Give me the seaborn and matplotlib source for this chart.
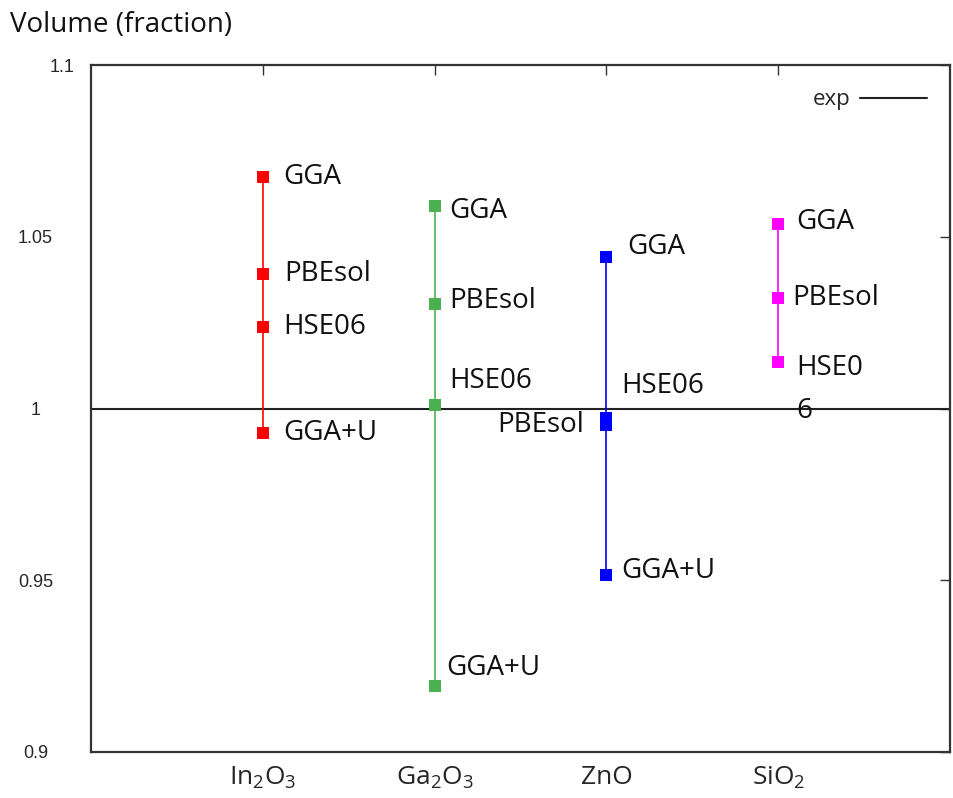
import matplotlib
matplotlib.use("Agg")
import matplotlib.pyplot as plt
import matplotlib.transforms as mtransforms
import seaborn as sns
import pandas as pd

# Relative volume (V / V_exp) for each oxide and functional
compounds = ["In2O3", "Ga2O3", "ZnO", "SiO2"]
compound_labels = [r"In$_2$O$_3$", r"Ga$_2$O$_3$", "ZnO", r"SiO$_2$"]

in2o3_methods = ["GGA", "PBEsol", "HSE06", "GGA+U"]
in2o3_values = [1.0675, 1.0392, 1.0238, 0.9928]

ga2o3_methods = ["GGA", "PBEsol", "HSE06", "GGA+U"]
ga2o3_values = [1.0589, 1.0303, 1.0010, 0.9192]

zno_methods = ["GGA", "HSE06", "PBEsol", "GGA+U"]
zno_values = [1.0441, 0.9971, 0.9953, 0.9515]

sio2_methods = ["GGA", "PBEsol", "HSE0\n6"]
sio2_values = [1.0537, 1.0321, 1.0136]

exp_value = 1.0

y_ticks = [0.9, 0.95, 1.0, 1.05, 1.1]
y_tick_labels = ["0.9", "0.95", "1", "1.05", "1.1"]

colors = ["#ff0000", "#4caf50", "#0000ff", "#ff00ff"]

# label placement (pixels from marker) and horizontal alignment
label_offsets = {
    "In2O3": [(20, 0, "left"), (21, 0, "left"), (20, 0, "left"), (20, 0, "left")],
    "Ga2O3": [(15, -5, "left"), (15, 3, "left"), (15, 24, "left"), (12, 18, "left")],
    "ZnO": [(21, 10, "left"), (15, 32, "left"), (-22, 0, "right"), (15, 4, "left")],
    "SiO2": [(18, 2, "left"), (14, 0, "left"), (18, -28, "left")],
}

series = {
    "In2O3": (in2o3_methods, in2o3_values),
    "Ga2O3": (ga2o3_methods, ga2o3_values),
    "ZnO": (zno_methods, zno_values),
    "SiO2": (sio2_methods, sio2_values),
}

rows = []
for i, name in enumerate(compounds):
    methods, values = series[name]
    for m, v in zip(methods, values):
        rows.append({"compound": name, "pos": i + 1, "method": m, "volume": v})
df = pd.DataFrame(rows)

sns.set_theme(style="white")
plt.rcParams["font.family"] = ["Open Sans", "DejaVu Sans"]
plt.rcParams["mathtext.default"] = "regular"

fig = plt.figure(figsize=(9.54, 7.98), dpi=100)
ax = fig.add_axes([91 / 954, 1 - 752 / 798, (950 - 91) / 954, (752 - 65) / 798])

# experimental reference line
ax.axhline(exp_value, color="#222222", lw=1.5, label="exp", zorder=1)

# range line and square markers per compound
sns.lineplot(
    data=df, x="pos", y="volume", hue="compound", palette=colors,
    estimator=None, sort=False, marker="s", markersize=8,
    markeredgewidth=0, lw=1.2, legend=False, ax=ax, zorder=3,
)

for i, name in enumerate(compounds):
    methods, values = series[name]
    for (m, v), (dx, dy, ha) in zip(zip(methods, values), label_offsets[name]):
        ax.annotate(m, xy=(i + 1, v), xytext=(dx, dy), textcoords="offset pixels",
                    ha=ha, va="center", fontsize=20, color="#111111",
                    linespacing=1.7, zorder=4)

ax.set_xlim(0, 5)
ax.set_ylim(0.9, 1.1)
ax.set_xticks(range(1, len(compounds) + 1))
ax.set_xticklabels(compound_labels, fontsize=19)
ax.set_yticks(y_ticks)
ax.set_yticklabels(y_tick_labels, fontsize=13, family=["Liberation Sans"])
ax.tick_params(direction="in", length=7, width=1, top=True, right=True,
               color="#333333")
ax.tick_params(axis="x", pad=9)
ax.tick_params(axis="y", pad=40)
for lab in ax.get_yticklabels():
    lab.set_horizontalalignment("center")
    if lab.get_text() == "1.1":
        lab.set_transform(lab.get_transform() +
                          mtransforms.ScaledTranslation(27 / 100, 0, fig.dpi_scale_trans))
ax.set_xlabel("")
ax.set_ylabel("")
for s in ax.spines.values():
    s.set_color("#333333")
    s.set_linewidth(1.6)

leg = ax.legend(loc="upper right", frameon=False, markerfirst=False,
                fontsize=16, handlelength=3.0, bbox_to_anchor=(0.991, 0.987),
                borderaxespad=0.3, handletextpad=0.45)

fig.text(10 / 954, 1 - 25 / 798, "Volume (fraction)", fontsize=20,
         ha="left", va="center", color="#111111")

fig.savefig("out.png", dpi=100)
